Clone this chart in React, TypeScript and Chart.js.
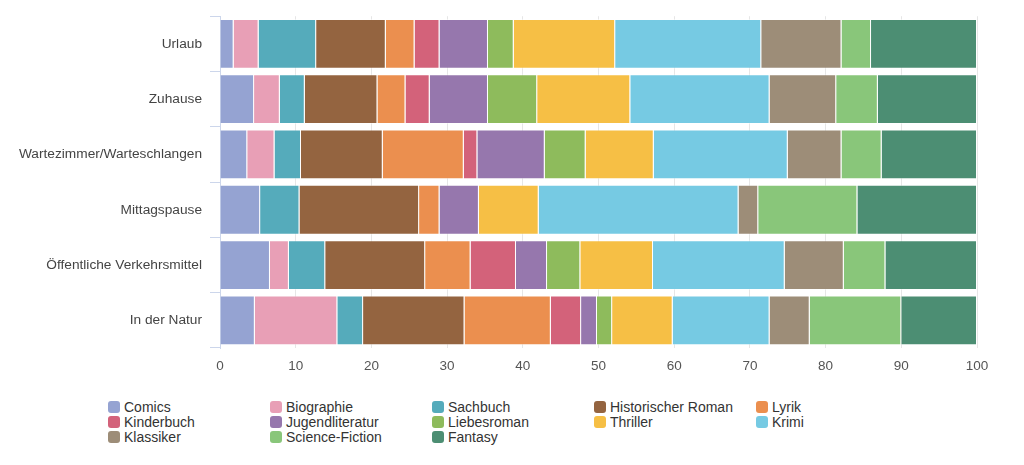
import React, { useEffect, useRef } from "react";
import { Chart, registerables } from "chart.js";

Chart.register(...registerables);

const categories = [
  "Urlaub",
  "Zuhause",
  "Wartezimmer/Warteschlangen",
  "Mittagspause",
  "Öffentliche Verkehrsmittel",
  "In der Natur",
];

const genres = [
  "Comics",
  "Biographie",
  "Sachbuch",
  "Historischer Roman",
  "Lyrik",
  "Kinderbuch",
  "Jugendliteratur",
  "Liebesroman",
  "Thriller",
  "Krimi",
  "Klassiker",
  "Science-Fiction",
  "Fantasy",
];

const colors = [
  "#95a3d2",
  "#e89fb6",
  "#55abbb",
  "#946440",
  "#eb8f4f",
  "#d3627a",
  "#9677ad",
  "#8ebb5c",
  "#f6bf45",
  "#76cae3",
  "#9d8d78",
  "#89c67a",
  "#4c8e73",
];

// values per genre, one entry per category (in order of categories)
const comics = [1.8, 4.5, 3.6, 5.3, 6.6, 4.6];
const biographie = [3.3, 3.4, 3.6, 0, 2.5, 10.9];
const sachbuch = [7.6, 3.3, 3.5, 5.2, 4.8, 3.4];
const historischerRoman = [9.2, 9.6, 10.8, 15.8, 13.2, 13.4];
const lyrik = [3.8, 3.7, 10.7, 2.7, 6.0, 11.4];
const kinderbuch = [3.3, 3.2, 1.8, 0, 6.0, 4.0];
const jugendliteratur = [6.4, 7.7, 8.9, 5.2, 4.1, 2.1];
const liebesroman = [3.4, 6.5, 5.4, 0, 4.4, 2.0];
const thriller = [13.4, 12.3, 9.0, 7.9, 9.6, 8.0];
const krimi = [19.3, 18.4, 17.7, 26.4, 17.4, 12.8];
const klassiker = [10.6, 8.8, 7.1, 2.6, 7.8, 5.3];
const scienceFiction = [3.9, 5.5, 5.3, 13.1, 5.5, 12.1];
const fantasy = [14.0, 13.1, 12.6, 15.8, 12.1, 10.0];

const seriesValues = [
  comics,
  biographie,
  sachbuch,
  historischerRoman,
  lyrik,
  kinderbuch,
  jugendliteratur,
  liebesroman,
  thriller,
  krimi,
  klassiker,
  scienceFiction,
  fantasy,
];

const xTicks = [0, 10, 20, 30, 40, 50, 60, 70, 80, 90, 100];

const FONT = "'Liberation Sans', Arial, Helvetica, sans-serif";

export default function App() {
  const canvasRef = useRef<HTMLCanvasElement | null>(null);

  useEffect(() => {
    if (!canvasRef.current) return;
    const chart = new Chart(canvasRef.current, {
      type: "bar",
      data: {
        labels: categories,
        datasets: genres.map((g, i) => ({
          label: g,
          data: seriesValues[i],
          backgroundColor: colors[i],
          borderColor: "rgba(255,255,255,0.45)",
          borderWidth: 1,
          barPercentage: 0.9,
          categoryPercentage: 1,
        })),
      },
      options: {
        indexAxis: "y",
        animation: false,
        responsive: true,
        maintainAspectRatio: false,
        layout: { padding: { left: 0, top: 15, right: 47, bottom: 0 } },
        plugins: {
          legend: { display: false },
          tooltip: { enabled: false },
        },
        scales: {
          x: {
            stacked: true,
            min: 0,
            max: 100,
            afterBuildTicks: (scale: any) => {
              scale.ticks = xTicks.map((v) => ({ value: v }));
            },
            afterFit: (scale: any) => {
              scale.height = 37;
            },
            grid: { color: "#e6e6e6", drawTicks: false },
            border: { display: false },
            ticks: {
              padding: 10,
              color: "#555",
              font: { family: FONT, size: 13.5 },
            },
          },
          y: {
            stacked: true,
            afterFit: (scale: any) => {
              scale.width = 220;
            },
            grid: {
              offset: true,
              drawOnChartArea: false,
              tickLength: 10,
              color: "#ccd6eb",
            },
            border: { color: "#ccd6eb" },
            ticks: {
              padding: 8,
              color: "#444",
              font: { family: FONT, size: 13.7 },
            },
          },
        },
      },
    });
    return () => chart.destroy();
  }, []);

  return (
    <div
      style={{
        position: "absolute",
        left: 0,
        top: 0,
        width: 1024,
        height: 465,
        background: "#fff",
        fontFamily: FONT,
      }}
    >
      <div style={{ position: "absolute", left: 0, top: 0, width: 1024, height: 385 }}>
        <canvas ref={canvasRef} />
      </div>
      <div
        style={{
          position: "absolute",
          left: 108,
          top: 399,
          display: "grid",
          gridTemplateColumns: "repeat(5, 162px)",
          rowGap: 0,
        }}
      >
        {genres.map((g, i) => (
          <div
            key={g}
            style={{
              display: "flex",
              alignItems: "center",
              height: 15,
              fontSize: 14,
              color: "#333",
              whiteSpace: "nowrap",
            }}
          >
            <span
              style={{
                display: "inline-block",
                width: 12,
                height: 12,
                borderRadius: 3,
                background: colors[i],
                marginRight: 4,
                flexShrink: 0,
              }}
            />
            {g}
          </div>
        ))}
      </div>
    </div>
  );
}
